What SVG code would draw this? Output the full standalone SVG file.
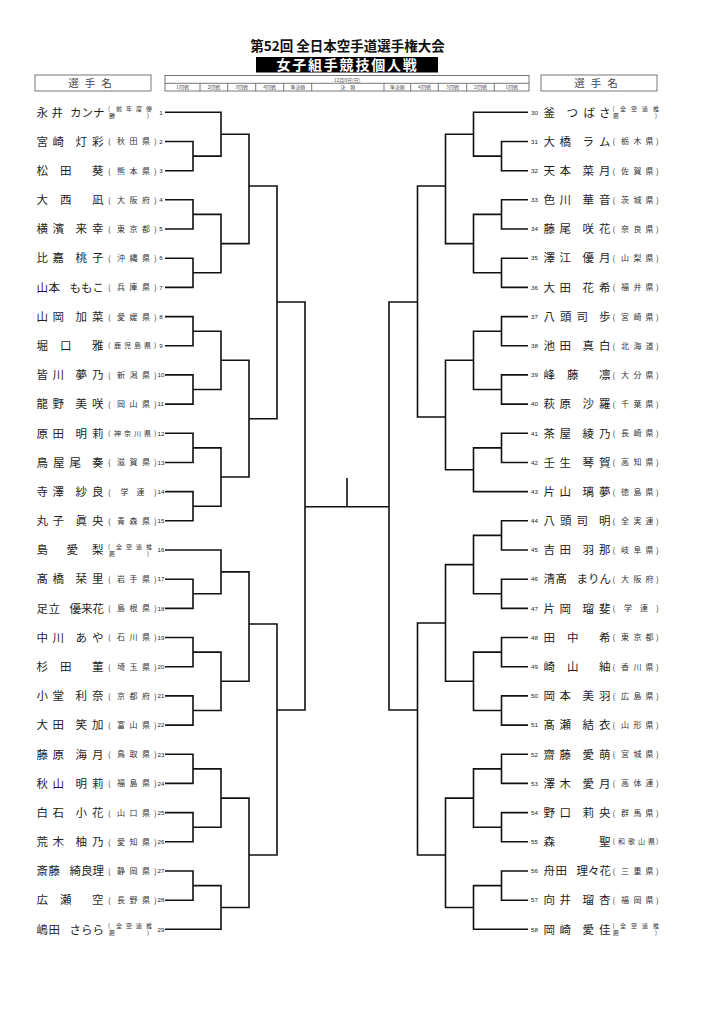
<svg xmlns="http://www.w3.org/2000/svg" width="724" height="1024" viewBox="0 0 724 1024">
<style>
text{font-family:"Noto Sans CJK JP","Noto Sans CJK SC",sans-serif}
.nm{font-size:11.5px;fill:#1e1e1e}
.pf{font-size:8px;fill:#333}
.pf4{font-size:7px;fill:#333}
.p2{font-size:6px;fill:#333}
.no{font-family:"Liberation Sans",Arial,sans-serif;font-size:6.2px;fill:#222}
.hd{font-size:5px;fill:#555;text-anchor:middle}
.ln{fill:none;stroke:#111;stroke-width:1.6}
.box{fill:none;stroke:#555;stroke-width:0.8}
</style>
<rect width="724" height="1024" fill="#fff"/>
<g id="header">
<text x="347.5" y="51" font-size="13.5" font-weight="bold" text-anchor="middle" fill="#111">第52回 全日本空手道選手権大会</text>
<rect x="256" y="57" width="182" height="15.5" fill="#000"/>
<text x="347.5" y="70" font-size="14" font-weight="bold" text-anchor="middle" fill="#fff" letter-spacing="1.8">女子組手競技個人戦</text>
<rect class="box" x="35" y="75" width="116" height="16"/>
<text x="93" y="87" font-size="10.5" fill="#444" text-anchor="middle" letter-spacing="6">選手名</text>
<rect class="box" x="541" y="75" width="116" height="16"/>
<text x="599" y="87" font-size="10.5" fill="#444" text-anchor="middle" letter-spacing="6">選手名</text>
<rect class="box" x="165" y="75.5" width="364" height="15.5"/>
<path class="box" d="M165 83.3H529M200 83.3V91M227.7 83.3V91M255.7 83.3V91M283.7 83.3V91M311.7 83.3V91M384 83.3V91M410.7 83.3V91M438.3 83.3V91M466.7 83.3V91M494.3 83.3V91"/>
<text class="hd" x="347" y="81.5">12月8日(日)</text>
<text class="hd" x="182.5" y="89">1回戦</text>
<text class="hd" x="213.8" y="89">2回戦</text>
<text class="hd" x="241.7" y="89">3回戦</text>
<text class="hd" x="269.7" y="89">4回戦</text>
<text class="hd" x="297.7" y="89">準決勝</text>
<text class="hd" x="347.8" y="89">決　勝</text>
<text class="hd" x="397.3" y="89">準決勝</text>
<text class="hd" x="424.5" y="89">4回戦</text>
<text class="hd" x="452.5" y="89">3回戦</text>
<text class="hd" x="480.5" y="89">2回戦</text>
<text class="hd" x="511.6" y="89">1回戦</text>
</g>
<g id="connectors">
<path class="ln" d="M165 141.5H193V170.7H165M165 112.3H221V156.1H193M165 199.8H193V229H165M165 258.2H193V287.4H165M193 214.4H221V272.8H193M221 134.2H249V243.6H221M165 316.6H193V345.7H165M165 374.9H193V404.1H165M193 331.2H221V389.5H193M165 433.3H193V462.5H165M165 491.6H193V520.8H165M193 447.9H221V506.2H193M221 360.3H249V477H221M249 186H277V418.7H249M165 579.2H193V608.4H165M165 550H221V593.8H193M165 637.5H193V666.7H165M165 695.9H193V725.1H165M193 652.1H221V710.5H193M221 571.9H249V681.3H221M165 754.3H193V783.4H165M165 812.6H193V841.8H165M193 768.9H221V827.2H193M165 871H193V900.2H165M193 885.6H221V929.3H165M221 798.1H249V907.5H221M249 624H277V855H249M277 302H305V710H277"/>
<path class="ln" d="M305 506.7H389M347 478V506.7M417.5 302H389V710H417.5"/>
<path class="ln" d="M528 141.5H501.5V170.7H528M528 112.3H473.5V156.1H501.5M528 199.8H501.5V229H528M528 258.2H501.5V287.4H528M501.5 214.4H473.5V272.8H501.5M473.5 134.2H445.5V243.6H473.5M528 316.6H501.5V345.7H528M528 374.9H501.5V404.1H528M501.5 331.2H473.5V389.5H501.5M528 433.3H501.5V462.5H528M501.5 447.9H473.5V491.6H528M473.5 360.3H445.5V469.8H473.5M445.5 186H417.5V417H445.5M528 520.8H501.5V550H528M528 579.2H501.5V608.4H528M501.5 535.4H473.5V593.8H501.5M528 637.5H501.5V666.7H528M528 695.9H501.5V725.1H528M501.5 652.1H473.5V710.5H501.5M473.5 564.6H445.5V681.3H473.5M528 754.3H501.5V783.4H528M528 812.6H501.5V841.8H528M501.5 768.9H473.5V827.2H501.5M528 871H501.5V900.2H528M501.5 885.6H473.5V929.3H528M473.5 798.1H445.5V907.5H473.5M445.5 623H417.5V855H445.5"/>
</g>
<g id="n1" transform="translate(0,112.3)"><text class="nm" x="36.5 51.5 70 81.5 93" y="4.2">永井カンナ</text><text class="p2" x="108 116 126 136 146" y="-1.2">(前年度優</text><text class="p2" x="109 147" y="6">勝)</text><text class="no" x="159.3" y="2.2">1</text></g>
<g id="n2" transform="translate(0,141.5)"><text class="nm" x="36.5 52.5 75.5 92" y="4.2">宮崎灯彩</text><text class="pf" x="108 117 129.5 142 154" y="2.9">(秋田県)</text><text class="no" x="159.3" y="2.2">2</text></g>
<g id="n3" transform="translate(0,170.7)"><text class="nm" x="36.5 60 92" y="4.2">松田葵</text><text class="pf" x="108 117 129.5 142 154" y="2.9">(熊本県)</text><text class="no" x="159.3" y="2.2">3</text></g>
<g id="n4" transform="translate(0,199.8)"><text class="nm" x="36.5 60 92" y="4.2">大西凪</text><text class="pf" x="108 117 129.5 142 154" y="2.9">(大阪府)</text><text class="no" x="159.3" y="2.2">4</text></g>
<g id="n5" transform="translate(0,229)"><text class="nm" x="36.5 52.5 75.5 92" y="4.2">横濱来幸</text><text class="pf" x="108 117 129.5 142 154" y="2.9">(東京都)</text><text class="no" x="159.3" y="2.2">5</text></g>
<g id="n6" transform="translate(0,258.2)"><text class="nm" x="36.5 52.5 75.5 92" y="4.2">比嘉桃子</text><text class="pf" x="108 117 129.5 142 154" y="2.9">(沖縄県)</text><text class="no" x="159.3" y="2.2">6</text></g>
<g id="n7" transform="translate(0,287.4)"><text class="nm" x="36.5 48.5 69.5 81 92.5" y="4.2">山本ももこ</text><text class="pf" x="108 117 129.5 142 154" y="2.9">(兵庫県)</text><text class="no" x="159.3" y="2.2">7</text></g>
<g id="n8" transform="translate(0,316.6)"><text class="nm" x="36.5 52.5 75.5 92" y="4.2">山岡加菜</text><text class="pf" x="108 117 129.5 142 154" y="2.9">(愛媛県)</text><text class="no" x="159.3" y="2.2">8</text></g>
<g id="n9" transform="translate(0,345.7)"><text class="nm" x="36.5 60 92" y="4.2">堀口雅</text><text class="pf4" x="108 114 124 134 144 154" y="2.6">(鹿児島県)</text><text class="no" x="159.3" y="2.2">9</text></g>
<g id="n10" transform="translate(0,374.9)"><text class="nm" x="36.5 52.5 75.5 92" y="4.2">皆川夢乃</text><text class="pf" x="108 117 129.5 142 154" y="2.9">(新潟県)</text><text class="no" x="157.6" y="2.2">10</text></g>
<g id="n11" transform="translate(0,404.1)"><text class="nm" x="36.5 52.5 75.5 92" y="4.2">龍野美咲</text><text class="pf" x="108 117 129.5 142 154" y="2.9">(岡山県)</text><text class="no" x="157.6" y="2.2">11</text></g>
<g id="n12" transform="translate(0,433.3)"><text class="nm" x="36.5 52.5 75.5 92" y="4.2">原田明莉</text><text class="pf4" x="108 114 124 134 144 154" y="2.6">(神奈川県)</text><text class="no" x="157.6" y="2.2">12</text></g>
<g id="n13" transform="translate(0,462.5)"><text class="nm" x="36.5 53 69.5 92" y="4.2">鳥屋尾奏</text><text class="pf" x="108 117 129.5 142 154" y="2.9">(滋賀県)</text><text class="no" x="157.6" y="2.2">13</text></g>
<g id="n14" transform="translate(0,491.6)"><text class="nm" x="36.5 52.5 75.5 92" y="4.2">寺澤紗良</text><text class="pf" x="108 120.5 136.5 154" y="2.9">(学連)</text><text class="no" x="157.6" y="2.2">14</text></g>
<g id="n15" transform="translate(0,520.8)"><text class="nm" x="36.5 52.5 75.5 92" y="4.2">丸子眞央</text><text class="pf" x="108 117 129.5 142 154" y="2.9">(青森県)</text><text class="no" x="157.6" y="2.2">15</text></g>
<g id="n16" transform="translate(0,550)"><text class="nm" x="36.5 66.5 92" y="4.2">島愛梨</text><text class="p2" x="108 116 126 136 146" y="-1.2">(全空連推</text><text class="p2" x="109 147" y="6">薦)</text><text class="no" x="157.6" y="2.2">16</text></g>
<g id="n17" transform="translate(0,579.2)"><text class="nm" x="36.5 52.5 75.5 92" y="4.2">髙橋栞里</text><text class="pf" x="108 117 129.5 142 154" y="2.9">(岩手県)</text><text class="no" x="157.6" y="2.2">17</text></g>
<g id="n18" transform="translate(0,608.4)"><text class="nm" x="36.5 48.5 69.5 81 92.5" y="4.2">足立優来花</text><text class="pf" x="108 117 129.5 142 154" y="2.9">(島根県)</text><text class="no" x="157.6" y="2.2">18</text></g>
<g id="n19" transform="translate(0,637.5)"><text class="nm" x="36.5 52.5 75.5 92" y="4.2">中川あや</text><text class="pf" x="108 117 129.5 142 154" y="2.9">(石川県)</text><text class="no" x="157.6" y="2.2">19</text></g>
<g id="n20" transform="translate(0,666.7)"><text class="nm" x="36.5 60 92" y="4.2">杉田菫</text><text class="pf" x="108 117 129.5 142 154" y="2.9">(埼玉県)</text><text class="no" x="157.6" y="2.2">20</text></g>
<g id="n21" transform="translate(0,695.9)"><text class="nm" x="36.5 52.5 75.5 92" y="4.2">小堂利奈</text><text class="pf" x="108 117 129.5 142 154" y="2.9">(京都府)</text><text class="no" x="157.6" y="2.2">21</text></g>
<g id="n22" transform="translate(0,725.1)"><text class="nm" x="36.5 52.5 75.5 92" y="4.2">大田笑加</text><text class="pf" x="108 117 129.5 142 154" y="2.9">(富山県)</text><text class="no" x="157.6" y="2.2">22</text></g>
<g id="n23" transform="translate(0,754.3)"><text class="nm" x="36.5 52.5 75.5 92" y="4.2">藤原海月</text><text class="pf" x="108 117 129.5 142 154" y="2.9">(鳥取県)</text><text class="no" x="157.6" y="2.2">23</text></g>
<g id="n24" transform="translate(0,783.4)"><text class="nm" x="36.5 52.5 75.5 92" y="4.2">秋山明莉</text><text class="pf" x="108 117 129.5 142 154" y="2.9">(福島県)</text><text class="no" x="157.6" y="2.2">24</text></g>
<g id="n25" transform="translate(0,812.6)"><text class="nm" x="36.5 52.5 75.5 92" y="4.2">白石小花</text><text class="pf" x="108 117 129.5 142 154" y="2.9">(山口県)</text><text class="no" x="157.6" y="2.2">25</text></g>
<g id="n26" transform="translate(0,841.8)"><text class="nm" x="36.5 52.5 75.5 92" y="4.2">荒木柚乃</text><text class="pf" x="108 117 129.5 142 154" y="2.9">(愛知県)</text><text class="no" x="157.6" y="2.2">26</text></g>
<g id="n27" transform="translate(0,871)"><text class="nm" x="36.5 48.5 69.5 81 92.5" y="4.2">斎藤綺良理</text><text class="pf" x="108 117 129.5 142 154" y="2.9">(静岡県)</text><text class="no" x="157.6" y="2.2">27</text></g>
<g id="n28" transform="translate(0,900.2)"><text class="nm" x="36.5 60 92" y="4.2">広瀬空</text><text class="pf" x="108 117 129.5 142 154" y="2.9">(長野県)</text><text class="no" x="157.6" y="2.2">28</text></g>
<g id="n29" transform="translate(0,929.3)"><text class="nm" x="36.5 48.5 69.5 81 92.5" y="4.2">嶋田さらら</text><text class="p2" x="108 116 126 136 146" y="-1.2">(全空連推</text><text class="p2" x="109 147" y="6">薦)</text><text class="no" x="157.6" y="2.2">29</text></g>
<g id="n30" transform="translate(0,112.3)"><text class="no" x="531" y="2.2">30</text><text class="nm" x="543.5 566.5 583.5 599" y="4.2">釜つばさ</text><text class="p2" x="612.5 620 631 642 653" y="-1.2">(全空連推</text><text class="p2" x="613 655" y="6">薦)</text></g>
<g id="n31" transform="translate(0,141.5)"><text class="no" x="531" y="2.2">31</text><text class="nm" x="543.5 559.5 582.5 599" y="4.2">大橋ラム</text><text class="pf" x="612.5 621 633.5 645.5 656" y="2.9">(栃木県)</text></g>
<g id="n32" transform="translate(0,170.7)"><text class="no" x="531" y="2.2">32</text><text class="nm" x="543.5 559.5 582.5 599" y="4.2">天本菜月</text><text class="pf" x="612.5 621 633.5 645.5 656" y="2.9">(佐賀県)</text></g>
<g id="n33" transform="translate(0,199.8)"><text class="no" x="531" y="2.2">33</text><text class="nm" x="543.5 559.5 582.5 599" y="4.2">色川華音</text><text class="pf" x="612.5 621 633.5 645.5 656" y="2.9">(茨城県)</text></g>
<g id="n34" transform="translate(0,229)"><text class="no" x="531" y="2.2">34</text><text class="nm" x="543.5 559.5 582.5 599" y="4.2">藤尾咲花</text><text class="pf" x="612.5 621 633.5 645.5 656" y="2.9">(奈良県)</text></g>
<g id="n35" transform="translate(0,258.2)"><text class="no" x="531" y="2.2">35</text><text class="nm" x="543.5 559.5 582.5 599" y="4.2">澤江優月</text><text class="pf" x="612.5 621 633.5 645.5 656" y="2.9">(山梨県)</text></g>
<g id="n36" transform="translate(0,287.4)"><text class="no" x="531" y="2.2">36</text><text class="nm" x="543.5 559.5 582.5 599" y="4.2">大田花希</text><text class="pf" x="612.5 621 633.5 645.5 656" y="2.9">(福井県)</text></g>
<g id="n37" transform="translate(0,316.6)"><text class="no" x="531" y="2.2">37</text><text class="nm" x="543.5 560 576.5 599" y="4.2">八頭司歩</text><text class="pf" x="612.5 621 633.5 645.5 656" y="2.9">(宮崎県)</text></g>
<g id="n38" transform="translate(0,345.7)"><text class="no" x="531" y="2.2">38</text><text class="nm" x="543.5 559.5 582.5 599" y="4.2">池田真白</text><text class="pf" x="612.5 621 633.5 645.5 656" y="2.9">(北海道)</text></g>
<g id="n39" transform="translate(0,374.9)"><text class="no" x="531" y="2.2">39</text><text class="nm" x="543.5 567 599" y="4.2">峰藤凛</text><text class="pf" x="612.5 621 633.5 645.5 656" y="2.9">(大分県)</text></g>
<g id="n40" transform="translate(0,404.1)"><text class="no" x="531" y="2.2">40</text><text class="nm" x="543.5 559.5 582.5 599" y="4.2">萩原沙羅</text><text class="pf" x="612.5 621 633.5 645.5 656" y="2.9">(千葉県)</text></g>
<g id="n41" transform="translate(0,433.3)"><text class="no" x="531" y="2.2">41</text><text class="nm" x="543.5 559.5 582.5 599" y="4.2">茶屋綾乃</text><text class="pf" x="612.5 621 633.5 645.5 656" y="2.9">(長崎県)</text></g>
<g id="n42" transform="translate(0,462.5)"><text class="no" x="531" y="2.2">42</text><text class="nm" x="543.5 559.5 582.5 599" y="4.2">壬生琴賀</text><text class="pf" x="612.5 621 633.5 645.5 656" y="2.9">(高知県)</text></g>
<g id="n43" transform="translate(0,491.6)"><text class="no" x="531" y="2.2">43</text><text class="nm" x="543.5 559.5 582.5 599" y="4.2">片山璃夢</text><text class="pf" x="612.5 621 633.5 645.5 656" y="2.9">(徳島県)</text></g>
<g id="n44" transform="translate(0,520.8)"><text class="no" x="531" y="2.2">44</text><text class="nm" x="543.5 560 576.5 599" y="4.2">八頭司明</text><text class="pf" x="612.5 621 633.5 645.5 656" y="2.9">(全実連)</text></g>
<g id="n45" transform="translate(0,550)"><text class="no" x="531" y="2.2">45</text><text class="nm" x="543.5 559.5 582.5 599" y="4.2">吉田羽那</text><text class="pf" x="612.5 621 633.5 645.5 656" y="2.9">(岐阜県)</text></g>
<g id="n46" transform="translate(0,579.2)"><text class="no" x="531" y="2.2">46</text><text class="nm" x="543.5 555.5 576.5 588 599.5" y="4.2">清髙まりん</text><text class="pf" x="612.5 621 633.5 645.5 656" y="2.9">(大阪府)</text></g>
<g id="n47" transform="translate(0,608.4)"><text class="no" x="531" y="2.2">47</text><text class="nm" x="543.5 559.5 582.5 599" y="4.2">片岡瑠斐</text><text class="pf" x="612.5 624 640 656" y="2.9">(学連)</text></g>
<g id="n48" transform="translate(0,637.5)"><text class="no" x="531" y="2.2">48</text><text class="nm" x="543.5 567 599" y="4.2">田中希</text><text class="pf" x="612.5 621 633.5 645.5 656" y="2.9">(東京都)</text></g>
<g id="n49" transform="translate(0,666.7)"><text class="no" x="531" y="2.2">49</text><text class="nm" x="543.5 567 599" y="4.2">崎山紬</text><text class="pf" x="612.5 621 633.5 645.5 656" y="2.9">(香川県)</text></g>
<g id="n50" transform="translate(0,695.9)"><text class="no" x="531" y="2.2">50</text><text class="nm" x="543.5 559.5 582.5 599" y="4.2">岡本美羽</text><text class="pf" x="612.5 621 633.5 645.5 656" y="2.9">(広島県)</text></g>
<g id="n51" transform="translate(0,725.1)"><text class="no" x="531" y="2.2">51</text><text class="nm" x="543.5 559.5 582.5 599" y="4.2">髙瀬結衣</text><text class="pf" x="612.5 621 633.5 645.5 656" y="2.9">(山形県)</text></g>
<g id="n52" transform="translate(0,754.3)"><text class="no" x="531" y="2.2">52</text><text class="nm" x="543.5 559.5 582.5 599" y="4.2">齋藤愛萌</text><text class="pf" x="612.5 621 633.5 645.5 656" y="2.9">(宮城県)</text></g>
<g id="n53" transform="translate(0,783.4)"><text class="no" x="531" y="2.2">53</text><text class="nm" x="543.5 559.5 582.5 599" y="4.2">澤木愛月</text><text class="pf" x="612.5 621 633.5 645.5 656" y="2.9">(高体連)</text></g>
<g id="n54" transform="translate(0,812.6)"><text class="no" x="531" y="2.2">54</text><text class="nm" x="543.5 559.5 582.5 599" y="4.2">野口莉央</text><text class="pf" x="612.5 621 633.5 645.5 656" y="2.9">(群馬県)</text></g>
<g id="n55" transform="translate(0,841.8)"><text class="no" x="531" y="2.2">55</text><text class="nm" x="543.5 599" y="4.2">森聖</text><text class="pf4" x="612.5 618 628 638 648 656" y="2.6">(和歌山県)</text></g>
<g id="n56" transform="translate(0,871)"><text class="no" x="531" y="2.2">56</text><text class="nm" x="543.5 555.5 576.5 588 599.5" y="4.2">舟田理々花</text><text class="pf" x="612.5 621 633.5 645.5 656" y="2.9">(三重県)</text></g>
<g id="n57" transform="translate(0,900.2)"><text class="no" x="531" y="2.2">57</text><text class="nm" x="543.5 559.5 582.5 599" y="4.2">向井瑠杏</text><text class="pf" x="612.5 621 633.5 645.5 656" y="2.9">(福岡県)</text></g>
<g id="n58" transform="translate(0,929.3)"><text class="no" x="531" y="2.2">58</text><text class="nm" x="543.5 559.5 582.5 599" y="4.2">岡崎愛佳</text><text class="p2" x="612.5 620 631 642 653" y="-1.2">(全空連推</text><text class="p2" x="613 655" y="6">薦)</text></g>
</svg>
